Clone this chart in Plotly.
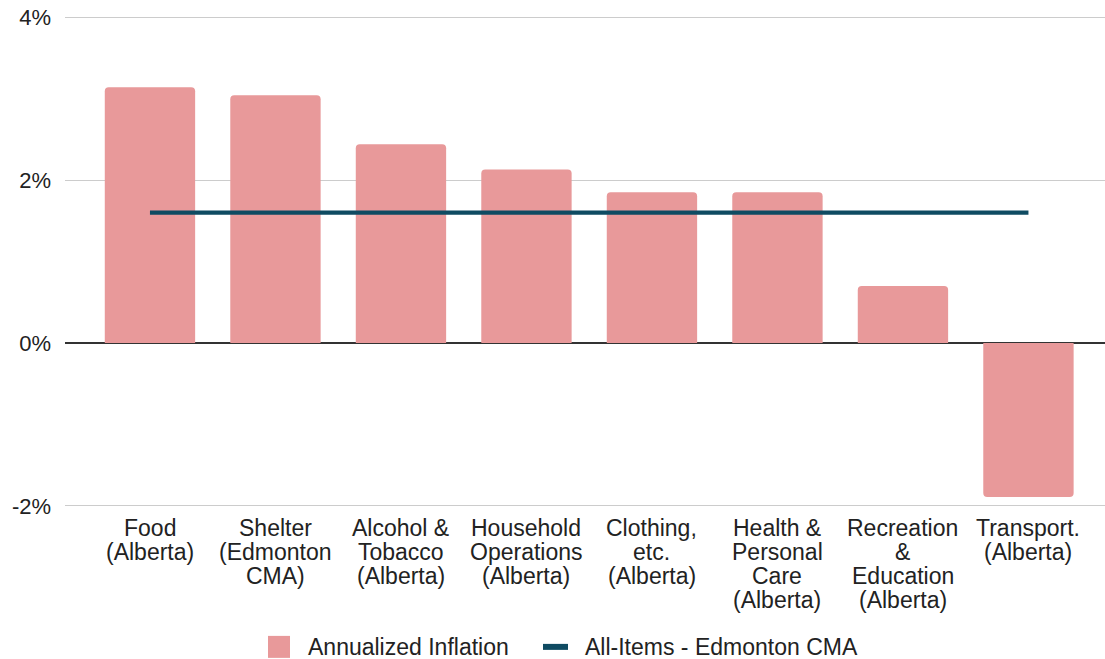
import plotly.graph_objects as go

categories = [
    "Food<br>(Alberta)",
    "Shelter<br>(Edmonton<br>CMA)",
    "Alcohol &<br>Tobacco<br>(Alberta)",
    "Household<br>Operations<br>(Alberta)",
    "Clothing,<br>etc.<br>(Alberta)",
    "Health &<br>Personal<br>Care<br>(Alberta)",
    "Recreation<br>&<br>Education<br>(Alberta)",
    "Transport.<br>(Alberta)",
]
annualized_inflation = [3.14, 3.04, 2.44, 2.13, 1.85, 1.85, 0.70, -1.89]
all_items_edmonton = [1.6, 1.6, 1.6, 1.6, 1.6, 1.6, 1.6, 1.6]
y_ticks = [-2, 0, 2, 4]
y_tick_labels = ["-2%", "0%", "2%", "4%"]
series_names = ["Annualized Inflation", "All-Items - Edmonton CMA"]

FONT = "Liberation Sans, Arial, sans-serif"
BAR_COLOR = "#e8999a"
LINE_COLOR = "#0f4b62"
TEXT_COLOR = "#222222"

# page body margin is removed below, so figure pixels = window pixels
W, H = 1105, 659
Y_MIN, Y_MAX = -2.05, 4.05
PX_PER_UNIT = 81.5
plot_top = 17 - (Y_MAX - 4) * PX_PER_UNIT
plot_bottom = 506 + (-2 - Y_MIN) * PX_PER_UNIT
L, R = 65, 0
T, B = plot_top, H - plot_bottom
pw, ph = W - L - R, H - T - B


def px_x(v):
    return (v - L) / pw


def px_y(v):
    return (H - B - v) / ph


xs = list(range(len(categories)))

fig = go.Figure()

fig.add_trace(go.Bar(
    x=xs, y=annualized_inflation, name=series_names[0],
    marker=dict(color=BAR_COLOR, line=dict(width=0)),
    width=0.72, showlegend=False,
))

fig.add_trace(go.Scatter(
    x=xs, y=all_items_edmonton, mode="lines", name=series_names[1],
    line=dict(color=LINE_COLOR, width=4.3), showlegend=False,
))

# category labels: one annotation per line so the line spacing stays tight
annotations = []
for i, label in enumerate(categories):
    for k, part in enumerate(label.split("<br>")):
        annotations.append(dict(
            x=i, xref="x", y=px_y(528 + 24 * k), yref="paper", yanchor="middle",
            text=part, showarrow=False,
            font=dict(family=FONT, size=23, color=TEXT_COLOR),
        ))

# legend drawn by hand so the swatches match the reference
annotations.append(dict(
    x=px_x(306), xref="paper", y=px_y(647), yref="paper", text=series_names[0],
    showarrow=False, xanchor="left", yanchor="middle",
    font=dict(family=FONT, size=23, color=TEXT_COLOR),
))
annotations.append(dict(
    x=px_x(583), xref="paper", y=px_y(647), yref="paper", text=series_names[1],
    showarrow=False, xanchor="left", yanchor="middle",
    font=dict(family=FONT, size=23, color=TEXT_COLOR),
))

shapes = [
    dict(type="rect", xref="paper", yref="paper",
         x0=px_x(268), x1=px_x(290), y0=px_y(636), y1=px_y(658),
         fillcolor=BAR_COLOR, line=dict(width=0)),
    dict(type="rect", xref="paper", yref="paper",
         x0=px_x(543), x1=px_x(568), y0=px_y(644), y1=px_y(650),
         fillcolor=LINE_COLOR, line=dict(width=0)),
]

fig.update_layout(
    width=W, height=H,
    margin=dict(l=L, r=R, t=T, b=B),
    paper_bgcolor="white", plot_bgcolor="white",
    font=dict(family=FONT, size=22, color=TEXT_COLOR),
    barcornerradius=4,
    showlegend=False,
    annotations=annotations,
    shapes=shapes,
    xaxis=dict(
        range=[-0.677, 7.61], showgrid=False, zeroline=False, showline=False,
        showticklabels=False, ticks="", automargin=False,
    ),
    yaxis=dict(
        tickmode="array", tickvals=y_ticks, ticktext=y_tick_labels,
        range=[Y_MIN, Y_MAX], showgrid=True, gridcolor="#cccccc", gridwidth=1.3,
        zeroline=True, zerolinecolor="#333333", zerolinewidth=1.5,
        ticks="", ticklabelstandoff=13, tickfont=dict(size=22),
        ticklabeloverflow="allow", automargin=False,
    ),
)

fig.write_html(
    "out.html",
    config={"displayModeBar": False},
    post_script="document.body.style.margin='0';document.body.style.overflow='hidden';",
)
